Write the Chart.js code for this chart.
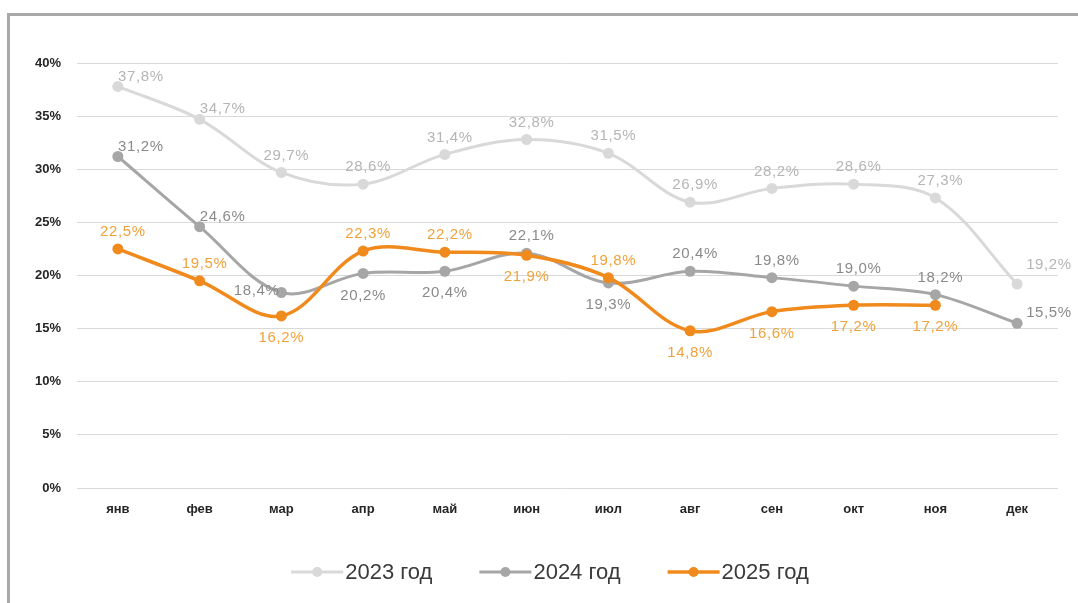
<!DOCTYPE html>
<html lang="ru">
<head>
<meta charset="utf-8">
<title>Динамика по месяцам</title>
<script src="https://cdn.jsdelivr.net/npm/chart.js@4.4.1/dist/chart.umd.min.js"></script>
<style>
    html, body { margin: 0; padding: 0; background: #ffffff; }
    #wrap { position: relative; width: 1078px; height: 603px; overflow: hidden; }
    #frame {
        position: absolute; left: 7px; top: 13px; width: 1100px; height: 620px;
        border-left: 3px solid #a9a9a9; border-top: 3px solid #a9a9a9;
    }
    #chart { position: absolute; left: 0; top: 0; }
</style>
</head>
<body>
<div id="wrap">
    <div id="frame"></div>
    <canvas id="chart" width="1078" height="603"></canvas>
</div>
<script>
// Data
const months = ['янв', 'фев', 'мар', 'апр', 'май', 'июн', 'июл', 'авг', 'сен', 'окт', 'ноя', 'дек'];
const values2023 = [37.8, 34.7, 29.7, 28.6, 31.4, 32.8, 31.5, 26.9, 28.2, 28.6, 27.3, 19.2];
const values2024 = [31.2, 24.6, 18.4, 20.2, 20.4, 22.1, 19.3, 20.4, 19.8, 19.0, 18.2, 15.5];
const values2025 = [22.5, 19.5, 16.2, 22.3, 22.2, 21.9, 19.8, 14.8, 16.6, 17.2, 17.2, null];
const seriesNames = ['2023 год', '2024 год', '2025 год'];

// where each value label sits relative to its point
const labelPos2023 = ['ar', 'ar', 'a', 'a', 'a', 'a', 'a', 'a', 'a', 'a', 'a', 'r'];
const labelPos2024 = ['ar', 'ar', 'l', 'b', 'b', 'a', 'b', 'a', 'a', 'a', 'a', 'r'];
const labelPos2025 = ['a', 'a', 'b', 'a', 'a', 'b', 'a', 'b', 'b', 'b', 'b', 'b'];
const labelPositions = [labelPos2023, labelPos2024, labelPos2025];
const labelColors = ['#b5b5b5', '#8a8a8a', '#f0a23a'];

const FONT = "'Liberation Sans', Arial, sans-serif";

function fmt(v) {
    return v.toFixed(1).replace('.', ',') + '%';
}

// value labels drawn next to the points
const valueLabels = {
    id: 'valueLabels',
    afterDatasetsDraw(chart) {
        const ctx = chart.ctx;
        ctx.save();
        ctx.font = '15px ' + FONT;
        ctx.letterSpacing = '0.6px';
        ctx.textBaseline = 'middle';
        chart.data.datasets.forEach((ds, i) => {
            const meta = chart.getDatasetMeta(i);
            meta.data.forEach((pt, j) => {
                const v = ds.data[j];
                if (v === null || v === undefined) return;
                const pos = labelPositions[i][j];
                let x = pt.x, y = pt.y;
                ctx.textAlign = 'center';
                if (pos === 'a') { y -= 17; x += 5; }
                else if (pos === 'b') { y += 22; }
                else if (pos === 'ar') { y -= 10; x += 23; }
                else if (pos === 'l') { ctx.textAlign = 'right'; x -= 2; y -= 2; }
                else if (pos === 'r') { ctx.textAlign = 'left'; x += 9; y -= (i === 0 ? 19 : 10); }
                ctx.fillStyle = labelColors[i];
                ctx.fillText(fmt(v), x, y);
            });
        });
        ctx.restore();
    }
};

// legend: line with a dot, then the series name
const lineLegend = {
    id: 'lineLegend',
    afterDraw(chart) {
        const ctx = chart.ctx;
        const lineLen = 52, gap = 2, itemGap = 47, cy = 572;
        ctx.save();
        ctx.font = '22px ' + FONT;
        ctx.textBaseline = 'middle';
        const widths = seriesNames.map(n => lineLen + gap + ctx.measureText(n).width);
        const total = widths.reduce((a, b) => a + b, 0) + itemGap * (widths.length - 1);
        let x = 550 - total / 2;
        chart.data.datasets.forEach((ds, i) => {
            ctx.strokeStyle = ds.borderColor;
            ctx.lineWidth = ds.borderWidth;
            ctx.beginPath();
            ctx.moveTo(x, cy);
            ctx.lineTo(x + lineLen, cy);
            ctx.stroke();
            ctx.fillStyle = ds.borderColor;
            ctx.beginPath();
            ctx.arc(x + lineLen / 2, cy, 5, 0, Math.PI * 2);
            ctx.fill();
            ctx.fillStyle = '#3a3a3a';
            ctx.textAlign = 'left';
            ctx.fillText(seriesNames[i], x + lineLen + gap, cy + 1);
            x += widths[i] + itemGap;
        });
        ctx.restore();
    }
};

function makeSeries(label, data, color, width, order) {
    return {
        label: label,
        data: data,
        borderColor: color,
        backgroundColor: color,
        borderWidth: width,
        pointRadius: 5.5,
        pointHoverRadius: 5.5,
        pointBackgroundColor: color,
        pointBorderWidth: 0,
        tension: 0.35,
        order: order
    };
}

new Chart(document.getElementById('chart'), {
    type: 'line',
    data: {
        labels: months,
        datasets: [
            makeSeries(seriesNames[0], values2023, '#d9d9d9', 3, 3),
            makeSeries(seriesNames[1], values2024, '#a6a6a6', 3, 2),
            makeSeries(seriesNames[2], values2025, '#f08a1d', 3.5, 1)
        ]
    },
    options: {
        responsive: false,
        animation: false,
        layout: {
            padding: { top: 63, right: 20, bottom: 75, left: 0 }
        },
        scales: {
            x: {
                offset: true,
                grid: { display: false },
                border: { display: false },
                ticks: {
                    color: '#262626',
                    padding: 6,
                    font: { size: 13, weight: 'bold', family: FONT }
                },
                afterFit(scale) { scale.height = 40; }
            },
            y: {
                min: 0,
                max: 40,
                grid: { color: '#d9d9d9', lineWidth: 1, drawTicks: false },
                border: { display: false },
                ticks: {
                    stepSize: 5,
                    padding: 16,
                    color: '#262626',
                    font: { size: 13, weight: 'bold', family: FONT },
                    callback: function(value) { return value + '%'; }
                },
                afterFit(scale) { scale.width = 77; }
            }
        },
        plugins: {
            legend: { display: false },
            tooltip: { enabled: false }
        }
    },
    plugins: [valueLabels, lineLegend]
});
</script>
</body>
</html>
